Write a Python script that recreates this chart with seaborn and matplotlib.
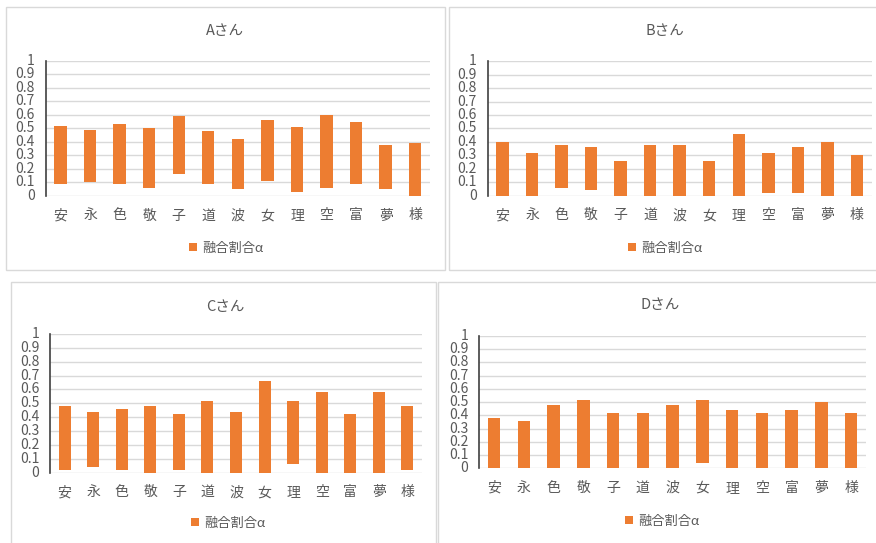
import numpy as np
import pandas as pd
import matplotlib
matplotlib.use('Agg')
import matplotlib.pyplot as plt
import seaborn as sns
from matplotlib.patches import Patch, Rectangle

# data (floating bars: low -> high)
chars = ['安', '永', '色', '敬', '子', '道', '波', '女', '理', '空', '富', '夢', '様']

a_low = [0.09, 0.10, 0.09, 0.06, 0.16, 0.09, 0.05, 0.11, 0.03, 0.06, 0.09, 0.05, 0.00]
a_high = [0.52, 0.49, 0.53, 0.50, 0.59, 0.48, 0.42, 0.56, 0.51, 0.60, 0.55, 0.38, 0.39]

b_low = [0.00, 0.00, 0.06, 0.04, 0.00, 0.00, 0.00, 0.00, 0.00, 0.02, 0.02, 0.00, 0.00]
b_high = [0.40, 0.32, 0.38, 0.36, 0.26, 0.38, 0.38, 0.26, 0.46, 0.32, 0.36, 0.40, 0.30]

c_low = [0.02, 0.04, 0.02, 0.00, 0.02, 0.00, 0.00, 0.00, 0.06, 0.00, 0.00, 0.00, 0.02]
c_high = [0.48, 0.44, 0.46, 0.48, 0.42, 0.52, 0.44, 0.66, 0.52, 0.58, 0.42, 0.58, 0.48]

d_low = [0.00, 0.00, 0.00, 0.00, 0.00, 0.00, 0.00, 0.04, 0.00, 0.00, 0.00, 0.00, 0.00]
d_high = [0.38, 0.36, 0.48, 0.52, 0.42, 0.42, 0.48, 0.52, 0.44, 0.42, 0.44, 0.50, 0.42]

titles = ['Aさん', 'Bさん', 'Cさん', 'Dさん']
legend_label = '融合割合α'
yticks = [0, 0.1, 0.2, 0.3, 0.4, 0.5, 0.6, 0.7, 0.8, 0.9, 1]
ytick_labels = ['0', '0.1', '0.2', '0.3', '0.4', '0.5', '0.6', '0.7', '0.8', '0.9', '1']

sns.set_theme(style='white')
plt.rcParams['font.family'] = ['Noto Sans CJK JP', 'DejaVu Sans']

W, H = 876, 543
fig = plt.figure(figsize=(W / 100, H / 100), dpi=100)
fig.patch.set_facecolor('white')

orange = '#ED7D31'
gray_txt = '#595959'
grid_col = '#D9D9D9'

# pixel layout per panel: border box, plot area, title pos, legend pos
panels = [
    dict(low=a_low, high=a_high, box=(6, 7, 445, 270), area=(45.7, 60.7, 430, 196), title=(225, 31), leg=(226, 248)),
    dict(low=b_low, high=b_high, box=(449, 7, 880, 270), area=(487.7, 61.3, 871.7, 195.7), title=(665, 31), leg=(665, 248)),
    dict(low=c_low, high=c_high, box=(11, 282, 436, 560), area=(50.3, 334, 421.7, 472.7), title=(225, 307), leg=(228, 523)),
    dict(low=d_low, high=d_high, box=(438, 282, 890, 560), area=(479.3, 336, 866, 468.3), title=(660, 305), leg=(662, 521)),
]

for p, title in zip(panels, titles):
    x0, y0, x1, y1 = p['box']
    fig.patches.append(Rectangle((x0 / W, 1 - y1 / H), (x1 - x0) / W, (y1 - y0) / H,
                                 transform=fig.transFigure, fill=False,
                                 edgecolor='#D9D9D9', lw=1.0))

    l, t, r, b = p['area']
    ax = fig.add_axes([l / W, 1 - b / H, (r - l) / W, (b - t) / H])
    df = pd.DataFrame({'char': chars,
                       'low': p['low'],
                       'span': np.array(p['high']) - np.array(p['low'])})
    sns.barplot(data=df, x='char', y='span', bottom=df['low'].values, color=orange,
                saturation=1, width=0.42, ax=ax, zorder=3, linewidth=0)
    ax.set_ylim(0, 1)
    ax.set_xlim(-0.5, len(chars) - 0.5)
    ax.set_yticks(yticks)
    ax.set_yticklabels(ytick_labels)
    ax.set_xlabel('')
    ax.set_ylabel('')
    ax.yaxis.grid(True, color=grid_col, lw=1.0, zorder=0)
    ax.set_axisbelow(True)
    for s in ['top', 'right', 'bottom']:
        ax.spines[s].set_visible(False)
    ax.spines['left'].set_color('#404040')
    ax.spines['left'].set_linewidth(1.2)
    ax.tick_params(axis='y', length=0, pad=8, labelsize=10, labelcolor=gray_txt)
    ax.tick_params(axis='x', length=0, pad=9, labelsize=10, labelcolor=gray_txt)
    for lab in ax.get_yticklabels():
        lab.set_verticalalignment('center')

    fig.text(p['title'][0] / W, 1 - p['title'][1] / H, title, ha='center', va='center',
             fontsize=10.5, color=gray_txt)

    handle = Patch(facecolor=orange, edgecolor='none', label=legend_label)
    ax.legend(handles=[handle], loc='center',
              bbox_to_anchor=(p['leg'][0] / W, 1 - p['leg'][1] / H),
              bbox_transform=fig.transFigure, frameon=False,
              handlelength=0.6, handleheight=0.6, handletextpad=0.4,
              fontsize=9.5, labelcolor=gray_txt)

fig.savefig('out.png', dpi=100)
